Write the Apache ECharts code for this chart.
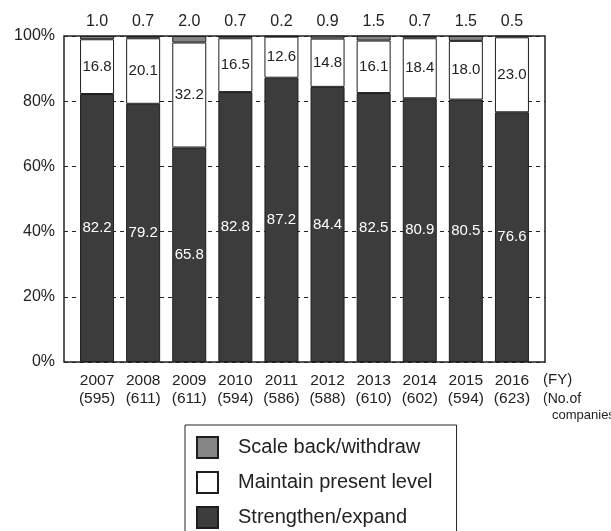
<!DOCTYPE html>
<html>
<head>
<meta charset="utf-8">
<script src="https://cdn.jsdelivr.net/npm/echarts@6/dist/echarts.min.js"></script>
<style>
  html, body { margin: 0; padding: 0; background: #fff; }
  #chart { width: 611px; height: 531px; }
</style>
</head>
<body>
<div id="chart"></div>
<script>
// Fiscal years and number of responding companies
const years = ['2007', '2008', '2009', '2010', '2011', '2012', '2013', '2014', '2015', '2016'];
const companies = ['595', '611', '611', '594', '586', '588', '610', '602', '594', '623'];

// Share of companies by business plan (%)
const strengthen = [82.2, 79.2, 65.8, 82.8, 87.2, 84.4, 82.5, 80.9, 80.5, 76.6];
const maintain = [16.8, 20.1, 32.2, 16.5, 12.6, 14.8, 16.1, 18.4, 18.0, 23.0];
const scaleBack = [1.0, 0.7, 2.0, 0.7, 0.2, 0.9, 1.5, 0.7, 1.5, 0.5];

const yTicks = [0, 20, 40, 60, 80, 100];

const FONT = "'Liberation Sans', Arial, sans-serif";
const INK = '#222';
const EDGE = '#1e1e1e';

const chart = echarts.init(document.getElementById('chart'), null, { renderer: 'canvas' });

chart.setOption({
  animation: false,
  backgroundColor: '#fff',
  textStyle: { fontFamily: FONT },
  grid: [
    // frame, dashed grid lines and percentage labels
    { left: 64, top: 36, width: 481, height: 326, show: true, borderColor: INK, borderWidth: 1.5, backgroundColor: 'transparent' },
    // bars, inset from the frame
    { left: 74, top: 36, width: 461, height: 326 }
  ],
  xAxis: [
    { gridIndex: 0, type: 'value', show: false, min: 0, max: 1 },
    {
      gridIndex: 1,
      type: 'category',
      data: years,
      axisLine: { show: false },
      axisTick: { show: false },
      axisLabel: {
        interval: 0,
        margin: 10,
        fontSize: 15.5,
        lineHeight: 18,
        color: INK,
        fontFamily: FONT,
        formatter: function (v, i) { return v + '\n(' + companies[i] + ')'; }
      }
    }
  ],
  yAxis: [
    {
      gridIndex: 0,
      type: 'value',
      min: yTicks[0],
      max: yTicks[yTicks.length - 1],
      interval: 20,
      axisLine: { show: false },
      axisTick: { show: false },
      axisLabel: { fontSize: 16, color: INK, margin: 9, formatter: '{value}%' },
      splitLine: { show: true, lineStyle: { color: INK, width: 1, type: [4, 4] } }
    },
    { gridIndex: 1, type: 'value', min: 0, max: 100, show: false }
  ],
  legend: {
    orient: 'vertical',
    left: 185,
    top: 425,
    height: 140,
    padding: [11, 24, 11, 11],
    itemWidth: 21,
    itemHeight: 21,
    itemGap: 12,
    borderColor: INK,
    borderWidth: 1,
    icon: 'rect',
    data: ['Scale back/withdraw', 'Maintain present level', 'Strengthen/expand'],
    textStyle: { fontSize: 20, color: INK, fontFamily: FONT, padding: [0, 0, 0, 15] }
  },
  series: [
    {
      name: 'Strengthen/expand',
      type: 'bar',
      xAxisIndex: 1,
      yAxisIndex: 1,
      stack: 'plan',
      barWidth: 34,
      data: strengthen,
      itemStyle: { color: '#3c3c3c', borderColor: EDGE, borderWidth: 1 },
      label: {
        show: true,
        position: 'inside',
        color: '#fff',
        fontSize: 15,
        fontFamily: FONT,
        formatter: function (p) { return p.value.toFixed(1); }
      }
    },
    {
      name: 'Maintain present level',
      type: 'bar',
      xAxisIndex: 1,
      yAxisIndex: 1,
      stack: 'plan',
      barWidth: 34,
      data: maintain,
      itemStyle: { color: '#fff', borderColor: EDGE, borderWidth: 1 },
      label: {
        show: true,
        position: 'inside',
        color: INK,
        fontSize: 15,
        fontFamily: FONT,
        formatter: function (p) { return p.value.toFixed(1); }
      }
    },
    {
      name: 'Scale back/withdraw',
      type: 'bar',
      xAxisIndex: 1,
      yAxisIndex: 1,
      stack: 'plan',
      barWidth: 34,
      data: scaleBack,
      itemStyle: { color: '#858585', borderColor: EDGE, borderWidth: 1 },
      label: {
        show: true,
        position: 'top',
        distance: 6,
        color: INK,
        fontSize: 16,
        fontFamily: FONT,
        formatter: function (p) { return p.value.toFixed(1); }
      }
    }
  ],
  graphic: [
    { type: 'text', left: 543, top: 372, style: { text: '(FY)', fontSize: 15, fontFamily: FONT, fill: INK } },
    { type: 'text', left: 543, top: 392, style: { text: '(No.of', fontSize: 14, fontFamily: FONT, fill: INK } },
    { type: 'text', left: 552, top: 409, style: { text: 'companies)', fontSize: 13, fontFamily: FONT, fill: INK } }
  ]
});
</script>
</body>
</html>
